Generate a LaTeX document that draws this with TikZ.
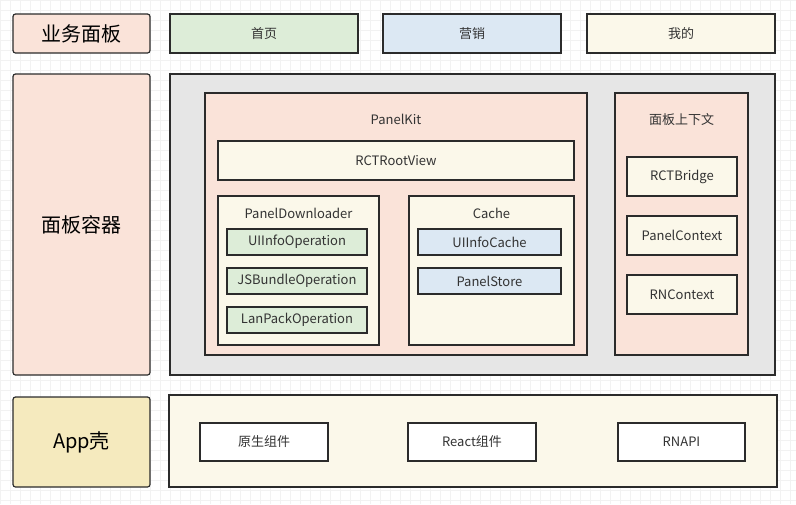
\documentclass[tikz,border=0pt]{standalone}
\usepackage{fontspec}
\setmainfont{Noto Sans CJK SC}
\usepackage{xcolor}
\usetikzlibrary{positioning}
\definecolor{peach}{HTML}{FAE3D9}
\definecolor{leaf}{HTML}{DDEDD8}
\definecolor{sky}{HTML}{DCE8F3}
\definecolor{cream}{HTML}{FBF8EA}
\definecolor{shellbg}{HTML}{F5EABE}
\definecolor{panelgrey}{HTML}{E6E6E6}
\definecolor{ink}{HTML}{2B2B2B}
\definecolor{txt}{HTML}{333333}

\begin{document}
\begin{tikzpicture}[
    x=1pt, y=-1pt,
    every node/.style={font=\fontsize{13}{15}\selectfont, text=txt},
    box/.style={rectangle,draw=ink,line width=1.2pt,inner sep=0pt},
    layer/.style={box,rounded corners=2.5pt,fill=peach,text=black,font=\fontsize{20}{24}\selectfont},
    gridline/.style={black!5,line width=0.4pt}
  ]
    \useasboundingbox (0,0) rectangle (796,504);
    % Background grid
    \foreach \gx in {0,10,...,790} \draw[gridline] (\gx,0) -- (\gx,504);
    \foreach \gy in {0,10,...,500} \draw[gridline] (0,\gy) -- (796,\gy);

    % Top row: business panels
    \node[layer,minimum width=137,minimum height=39] (biz) at (81.5,33.5) {业务面板};
    \node[box,fill=leaf,minimum width=188,minimum height=39] (home) at (264,33.5) {首页};
    \node[box,fill=sky,minimum width=178,minimum height=39] (mkt) at (472,33.5) {营销};
    \node[box,fill=cream,minimum width=188,minimum height=39] (mine) at (681,33.5) {我的};

    % Middle row: panel container
    \node[layer,minimum width=137,minimum height=301] (contL) at (81.5,224.5) {面板容器};
    \node[box,fill=panelgrey,minimum width=605,minimum height=301] (cont) at (472.5,224.5) {};

    % PanelKit
    \node[box,fill=peach,minimum width=382,minimum height=262] (kit) at (396,224) {};
    \node (kitL) at (396,119) {PanelKit};
    \node[box,fill=cream,minimum width=356,minimum height=39] (root) at (396,160.5) {RCTRootView};

    \node[box,fill=cream,minimum width=161,minimum height=149] (dl) at (298.5,270.5) {};
    \node (dlL) at (298.5,213) {PanelDownloader};
    \node[box,fill=leaf,minimum width=140,minimum height=26] (uiop) at (297,242) {UIInfoOperation};
    \node[box,fill=leaf,minimum width=140,minimum height=26] (jsop) at (297,281) {JSBundleOperation};
    \node[box,fill=leaf,minimum width=140,minimum height=26] (lanop) at (297,320) {LanPackOperation};

    \node[box,fill=cream,minimum width=165,minimum height=149] (cache) at (491.5,270.5) {};
    \node (cacheL) at (491.5,213) {Cache};
    \node[box,fill=sky,minimum width=143,minimum height=26] (uicache) at (489.5,242) {UIInfoCache};
    \node[box,fill=sky,minimum width=143,minimum height=26] (store) at (489.5,281) {PanelStore};

    % Panel context
    \node[box,fill=peach,minimum width=133,minimum height=262] (ctx) at (681.5,224) {};
    \node (ctxL) at (681.5,120) {面板上下文};
    \node[box,fill=cream,minimum width=110,minimum height=39] (bridge) at (682,176.5) {RCTBridge};
    \node[box,fill=cream,minimum width=110,minimum height=39] (pctx) at (682,235.5) {PanelContext};
    \node[box,fill=cream,minimum width=110,minimum height=39] (rnctx) at (682,294.5) {RNContext};

    % Bottom row: app shell
    \node[layer,fill=shellbg,minimum width=137,minimum height=90] (app) at (81.5,442) {App壳};
    \node[box,fill=cream,minimum width=608,minimum height=92] (shell) at (473,441) {};
    \node[box,fill=white,minimum width=128,minimum height=38] (native) at (264,442) {原生组件};
    \node[box,fill=white,minimum width=128,minimum height=38] (react) at (472,442) {React组件};
    \node[box,fill=white,minimum width=127,minimum height=38] (rnapi) at (681.5,442) {RNAPI};
  \end{tikzpicture}
\end{document}
